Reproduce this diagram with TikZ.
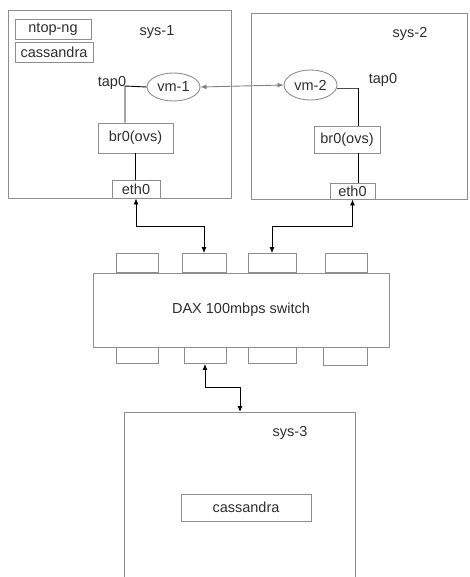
\documentclass[tikz,border=0pt]{standalone}
\usepackage{fontspec}
\setmainfont{Liberation Sans}
\usetikzlibrary{arrows.meta,shapes.geometric}
\definecolor{boxgray}{HTML}{8E8E8E}
\definecolor{txtgray}{HTML}{2E2E2E}
\begin{document}
\begin{tikzpicture}[x=1pt,y=-1pt,
  every node/.style={text=txtgray,font=\fontsize{14.5}{17}\selectfont,inner sep=0pt},
  gbox/.style={draw=boxgray,line width=0.9pt,fill=white,minimum width=#1},
  gbox/.default=10pt,
  plain/.style={draw=none},
  link/.style={draw=black,line width=0.9pt},
  biarrow/.style={link,{Latex[length=6pt,width=5pt]}-{Latex[length=6pt,width=5pt]}},
  vmarrow/.style={draw=gray,line width=0.9pt,{Latex[length=6pt,width=5pt]}-{Latex[length=6pt,width=5pt]}},
  vmell/.style={ellipse,draw=boxgray,line width=0.9pt,fill=white}
]
\useasboundingbox (0,0) rectangle (469,577);
% system boxes
\node[gbox,minimum width=223pt,minimum height=188pt] (sys1) at (119.5,104) {};
\node[gbox,minimum width=216pt,minimum height=186pt] (sys2) at (359,106) {};
% sys-1 contents
\node[gbox,minimum width=76pt,minimum height=20pt] (ntop) at (53,29) {ntop-ng};
\node[gbox,minimum width=78pt,minimum height=20pt] (cass1) at (54,52) {cassandra};
\node[plain] (lab1) at (157,32) {sys-1};
\node[plain] (tapA) at (112,83) {tap0};
\node[vmell,minimum width=53pt,minimum height=28pt] (vm1) at (173.5,87) {vm-1};
\node[gbox,minimum width=75pt,minimum height=30pt] (br1) at (135.5,138) {br0(ovs)};
\node[gbox,minimum width=48pt,minimum height=18pt] (eth1) at (136,189) {eth0};
\coordinate (j1) at (125,86);
\draw[link] (vm1.west) -- (j1) -- (j1 |- br1.north);
\draw[link] (eth1.north -| 135,0) -- (br1.south -| 135,0);
% sys-2 contents
\node[plain] (lab2) at (410,34) {sys-2};
\node[vmell,minimum width=53pt,minimum height=30pt] (vm2) at (310.5,85) {vm-2};
\node[plain] (tapB) at (383,80) {tap0};
\node[gbox,minimum width=66pt,minimum height=27pt] (br2) at (347,139.5) {br0(ovs)};
\node[gbox,minimum width=45pt,minimum height=16pt] (eth2) at (352.5,191) {eth0};
\coordinate (j2) at (358,88);
\draw[draw=black!70,line width=0.9pt] (vm2.east |- j2) -- (j2);
\draw[link] (j2) -- (j2 |- br2.north);
\draw[link] (br2.south -| j2) -- (eth2.north -| j2);
% vm link
\draw[vmarrow] (vm1.east) -- (vm2.west);
% switch
\node[gbox,minimum width=296pt,minimum height=74pt] (sw) at (241,310) {DAX 100mbps switch};
\node[gbox,minimum width=42pt,minimum height=19pt,anchor=south] (pt1) at (137,273) {};
\node[gbox,minimum width=44pt,minimum height=19pt,anchor=south] (pt2) at (204,273) {};
\node[gbox,minimum width=48pt,minimum height=19pt,anchor=south] (pt3) at (272,273) {};
\node[gbox,minimum width=42pt,minimum height=19pt,anchor=south] (pt4) at (346,273) {};
\node[gbox,minimum width=42pt,minimum height=16pt,anchor=north] (pb1) at (137,347) {};
\node[gbox,minimum width=42pt,minimum height=16pt,anchor=north] (pb2) at (205,347) {};
\node[gbox,minimum width=48pt,minimum height=16pt,anchor=north] (pb3) at (272,347) {};
\node[gbox,minimum width=44pt,minimum height=18pt,anchor=north] (pb4) at (345,347) {};
% sys-3 (open at the bottom)
\node[plain,minimum width=230pt,minimum height=180pt,anchor=north] (sys3) at (240,412) {};
\draw[draw=boxgray,line width=0.9pt] (sys3.south west) -- (sys3.north west) -- (sys3.north east) -- (sys3.south east);
\node[plain] (lab3) at (290,433) {sys-3};
\node[gbox,minimum width=130pt,minimum height=27pt] (cass3) at (246,507.5) {cassandra};
% connectors
\draw[biarrow] (eth1.south) -- ++(0,28) -| (pt2.north);
\draw[biarrow] (eth2.south) -- ++(0,27) -| (pt3.north);
\draw[biarrow] (pb2.south) -- ++(0,24) -| (sys3.north);
\end{tikzpicture}
\end{document}
